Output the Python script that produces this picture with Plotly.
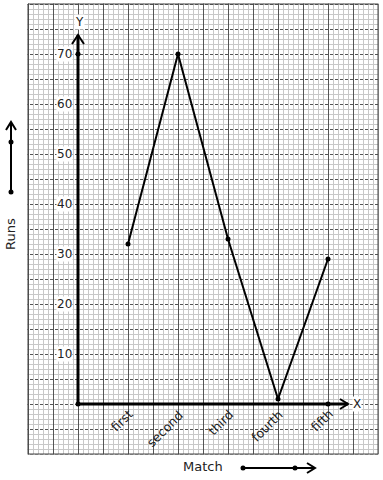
import plotly.graph_objects as go

# ---- data ----
categories = ["first", "second", "third", "fourth", "fifth"]
runs = [32, 70, 33, 1, 29]
y_ticks = [10, 20, 30, 40, 50, 60, 70]
x_title = "Match"
y_title = "Runs"

x_pos = [i + 1 for i in range(len(categories))]

fig = go.Figure()

fig.add_trace(go.Scatter(
    x=x_pos, y=runs, mode="lines+markers",
    line=dict(color="black", width=2),
    marker=dict(color="black", size=5),
    hoverinfo="skip", showlegend=False))

fig.add_trace(go.Scatter(
    x=[0, 0, len(categories)], y=[max(y_ticks), 0, 0], mode="markers",
    marker=dict(color="black", size=5), hoverinfo="skip", showlegend=False))

GRID_MAJOR = "#555555"
GRID_MINOR = "#c8c8c8"

fig.update_xaxes(
    range=[-1.56, 6.1], showticklabels=False, ticks="", zeroline=False,
    showline=False, tick0=0, dtick=0.5, showgrid=True,
    gridcolor=GRID_MAJOR, gridwidth=1, griddash="solid",
    minor=dict(tick0=0, dtick=0.1, showgrid=True, gridcolor=GRID_MINOR,
               gridwidth=1, griddash="solid"),
    fixedrange=True)
fig.update_yaxes(
    range=[-15.2, 80.8], showticklabels=False, ticks="", zeroline=False,
    showline=False, tick0=0, dtick=5, showgrid=True,
    gridcolor=GRID_MAJOR, gridwidth=1, griddash="3px,2px",
    minor=dict(tick0=0, dtick=1, showgrid=True, gridcolor=GRID_MINOR,
               gridwidth=1, griddash="solid"),
    fixedrange=True)

shapes = []
for x0, x1, y0, y1 in [(-3, -1.01, -30, 100), (6.01, 8, -30, 100),
                       (-3, 8, 80.1, 100), (-3, 8, -30, -10.1)]:
    shapes.append(dict(type="rect", x0=x0, x1=x1, y0=y0, y1=y1,
                       fillcolor="white", line=dict(width=0), layer="between"))
shapes.append(dict(type="rect", x0=-1, x1=6, y0=-10, y1=80,
                   line=dict(color="#444444", width=1), layer="between"))

AX = dict(color="black", width=3)
shapes.append(dict(type="line", x0=0, y0=0, x1=0, y1=73.8, line=AX))
shapes.append(dict(type="path", path="M -0.12 72.0 L 0 73.8 L 0.12 72.0",
                   line=dict(color="black", width=2)))
shapes.append(dict(type="line", x0=0, y0=0, x1=5.4, y1=0, line=AX))
shapes.append(dict(type="path", path="M 5.24 1 L 5.4 0 L 5.24 -1",
                   line=dict(color="black", width=2)))

shapes.append(dict(type="line", x0=-1.34, y0=42.4, x1=-1.34, y1=56.4,
                   line=dict(color="black", width=2)))
shapes.append(dict(type="path", path="M -1.44 54.8 L -1.34 56.4 L -1.24 54.8",
                   line=dict(color="black", width=2)))
shapes.append(dict(type="line", x0=3.3, y0=-12.8, x1=4.74, y1=-12.8,
                   line=dict(color="black", width=2)))
shapes.append(dict(type="path", path="M 4.58 -11.8 L 4.74 -12.8 L 4.58 -13.8",
                   line=dict(color="black", width=2)))

fig.add_trace(go.Scatter(
    x=[-1.34, -1.34, 3.3, 4.34], y=[42.4, 52.4, -12.8, -12.8], mode="markers",
    marker=dict(color="black", size=5), hoverinfo="skip", showlegend=False,
    cliponaxis=False))

FONT = "DejaVu Sans"
ann = []
for v in y_ticks:
    ann.append(dict(x=-0.1, y=v, text=str(v), showarrow=False, xanchor="right",
                    yanchor="middle", bgcolor="white", borderpad=0,
                    font=dict(family=FONT, size=12, color="#222222")))
for xp, c in zip(x_pos, categories):
    ann.append(dict(x=xp + 0.22, y=0.0, text=c, showarrow=False, textangle=-45,
                    xanchor="right", yanchor="top",
                    font=dict(family=FONT, size=12.5, color="#1a1a1a")))
ann.append(dict(x=0.02, y=76.4, text="Y", showarrow=False, bgcolor="white",
                borderpad=0, font=dict(family=FONT, size=12, color="#222222")))
ann.append(dict(x=5.58, y=0, text="X", showarrow=False, bgcolor="white",
                borderpad=0, font=dict(family=FONT, size=12, color="#222222")))
ann.append(dict(x=-1.36, y=34.0, text=y_title, showarrow=False, textangle=-90,
                font=dict(family=FONT, size=13, color="#222222")))
ann.append(dict(x=2.5, y=-12.4, text=x_title, showarrow=False,
                font=dict(family=FONT, size=13, color="#222222")))

fig.update_layout(
    width=383, height=480, margin=dict(l=0, r=0, t=0, b=0),
    paper_bgcolor="white", plot_bgcolor="white",
    shapes=shapes, annotations=ann, showlegend=False)

fig.write_html("out.html", config={"displayModeBar": False},
               post_script="document.body.style.margin='0';document.body.style.overflow='hidden';")
